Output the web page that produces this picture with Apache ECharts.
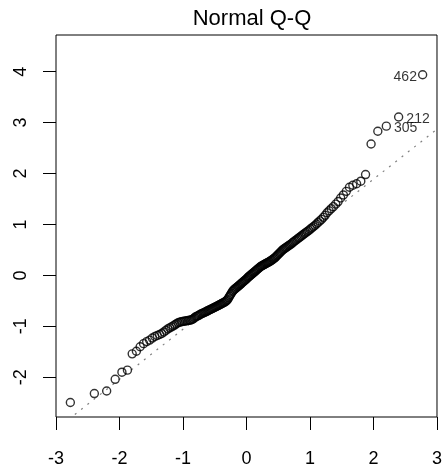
<!DOCTYPE html>
<html><head><meta charset="utf-8">
<script src="https://cdn.jsdelivr.net/npm/echarts@6/dist/echarts.min.js"></script>
<style>html,body{margin:0;padding:0;background:#fff}#c{width:445px;height:476px}</style>
</head><body><div id="c"></div>
<script>
// Theoretical normal quantiles (x) for the 181 ranked residuals
const theoreticalQuantiles = [
-2.774,-2.396,-2.202,-2.068,-1.962,-1.875,-1.800,-1.734,-1.675,-1.621,
-1.572,-1.526,-1.483,-1.443,-1.405,-1.368,-1.334,-1.301,-1.269,-1.239,
-1.210,-1.181,-1.154,-1.128,-1.102,-1.077,-1.052,-1.028,-1.005,-0.982,
-0.960,-0.938,-0.917,-0.896,-0.875,-0.856,-0.835,-0.816,-0.797,-0.778,
-0.759,-0.741,-0.723,-0.705,-0.687,-0.670,-0.653,-0.636,-0.619,-0.602,
-0.586,-0.570,-0.553,-0.537,-0.522,-0.506,-0.490,-0.475,-0.459,-0.444,
-0.428,-0.413,-0.398,-0.383,-0.369,-0.354,-0.339,-0.324,-0.310,-0.295,
-0.281,-0.267,-0.252,-0.238,-0.224,-0.210,-0.196,-0.182,-0.168,-0.153,
-0.139,-0.125,-0.111,-0.097,-0.083,-0.069,-0.055,-0.042,-0.028,-0.014,
0,
0.014,0.028,0.042,0.055,0.069,0.083,0.097,0.111,0.125,0.139,
0.153,0.168,0.182,0.196,0.210,0.224,0.238,0.252,0.267,0.281,
0.295,0.310,0.324,0.339,0.354,0.369,0.383,0.398,0.413,0.428,
0.444,0.459,0.475,0.490,0.506,0.522,0.537,0.553,0.570,0.586,
0.602,0.619,0.636,0.653,0.670,0.687,0.705,0.723,0.741,0.759,
0.778,0.797,0.816,0.835,0.856,0.875,0.896,0.917,0.938,0.960,
0.982,1.005,1.028,1.052,1.077,1.102,1.128,1.154,1.181,1.210,
1.239,1.269,1.301,1.334,1.368,1.405,1.443,1.483,1.526,1.572,
1.621,1.675,1.734,1.800,1.875,1.962,2.068,2.202,2.396,2.774
];
// Sorted standardized residuals (y)
const standardizedResiduals = [
-2.495,-2.32,-2.27,-2.04,-1.90,-1.86,-1.54,-1.49,-1.40,-1.34,
-1.30,-1.27,-1.23,-1.20,-1.18,-1.16,-1.14,-1.11,-1.08,-1.05,
-1.03,-1.01,-0.99,-0.97,-0.95,-0.93,-0.92,-0.91,-0.905,-0.90,
-0.895,-0.89,-0.885,-0.88,-0.875,-0.865,-0.85,-0.83,-0.81,-0.80,
-0.79,-0.775,-0.76,-0.75,-0.74,-0.73,-0.72,-0.71,-0.70,-0.69,
-0.68,-0.67,-0.66,-0.65,-0.64,-0.63,-0.62,-0.61,-0.60,-0.59,
-0.58,-0.57,-0.56,-0.55,-0.54,-0.53,-0.52,-0.505,-0.49,-0.47,
-0.44,-0.41,-0.38,-0.35,-0.32,-0.30,-0.28,-0.265,-0.25,-0.235,
-0.22,-0.205,-0.19,-0.175,-0.16,-0.145,-0.13,-0.115,-0.10,-0.085,
-0.07,
-0.05,-0.035,-0.02,-0.005,0.01,0.025,0.04,0.055,0.07,0.085,
0.10,0.115,0.13,0.145,0.16,0.175,0.185,0.195,0.205,0.215,
0.225,0.235,0.245,0.255,0.265,0.275,0.29,0.30,0.315,0.33,
0.345,0.36,0.38,0.40,0.42,0.44,0.46,0.48,0.50,0.515,
0.53,0.545,0.56,0.575,0.59,0.605,0.62,0.64,0.655,0.675,
0.69,0.71,0.73,0.745,0.765,0.785,0.805,0.825,0.845,0.865,
0.885,0.91,0.93,0.955,0.98,1.01,1.04,1.07,1.10,1.14,
1.18,1.23,1.27,1.31,1.35,1.40,1.45,1.52,1.58,1.65,
1.73,1.77,1.80,1.85,1.98,2.58,2.83,2.93,3.11,3.94
];
// Labelled observations: rank index, id text, side
const idIndex = [180, 179, 178];
const idText = ['462', '212', '305'];
const idSide = ['left', 'right', 'right'];

const xTicks = [-3, -2, -1, 0, 1, 2, 3];
const yTicks = [-2, -1, 0, 1, 2, 3, 4];

// Reference (qqline) through the quartiles
const refIntercept = -0.075;
const refSlope = 0.982;
const xRange = [-3, 3];
const yRange = [-2.78, 4.72];

const FONT = '"Liberation Sans", Arial, Helvetica, sans-serif';

const points = theoreticalQuantiles.map(function (x, i) {
  const k = idIndex.indexOf(i);
  const item = { value: [x, standardizedResiduals[i]] };
  if (k >= 0) {
    item.label = {
      show: true,
      formatter: idText[k],
      position: idSide[k],
      distance: idSide[k] === 'left' ? 1 : 3,
      offset: [0, 2],
      fontFamily: FONT,
      fontSize: 14,
      color: '#000'
    };
  }
  return item;
});
const refLine = xRange.map(function (x) { return [x, refIntercept + refSlope * x]; });

const chart = echarts.init(document.getElementById('c'), null, { renderer: 'canvas' });
chart.setOption({
  animation: false,
  backgroundColor: '#fff',
  title: {
    text: 'Normal Q-Q', left: 247, top: 3, textAlign: 'center',
    textStyle: { fontFamily: FONT, fontWeight: 'normal', fontSize: 22, color: '#000' }
  },
  grid: { left: 56, right: 8, top: 35, bottom: 59, show: true, borderColor: '#000', borderWidth: 1, backgroundColor: 'transparent' },
  xAxis: {
    type: 'value', min: xRange[0], max: xRange[1],
    axisLine: { show: false, onZero: false },
    splitLine: { show: false },
    axisTick: { show: true, length: 13, lineStyle: { color: '#000', width: 1 }, customValues: xTicks },
    axisLabel: { customValues: xTicks, margin: 33, fontSize: 18, color: '#000', fontFamily: FONT }
  },
  yAxis: {
    type: 'value', min: yRange[0], max: yRange[1],
    axisLine: { show: false, onZero: false },
    splitLine: { show: false },
    axisTick: { show: true, length: 13, lineStyle: { color: '#000', width: 1 }, customValues: yTicks },
    axisLabel: { customValues: yTicks, rotate: 90, align: 'center', verticalAlign: 'bottom', margin: 26, fontSize: 18, color: '#000', fontFamily: FONT }
  },
  series: [
    {
      type: 'line', data: refLine, symbol: 'none', silent: true, clip: true, z: 1,
      lineStyle: { color: '#808080', width: 1.2, type: [2, 6] }
    },
    {
      type: 'scatter', data: points, symbol: 'circle', symbolSize: 8, z: 2, silent: true,
      itemStyle: { color: 'rgba(0,0,0,0)', borderColor: '#000', borderWidth: 1.4 }
    }
  ]
});
</script>
</body></html>
